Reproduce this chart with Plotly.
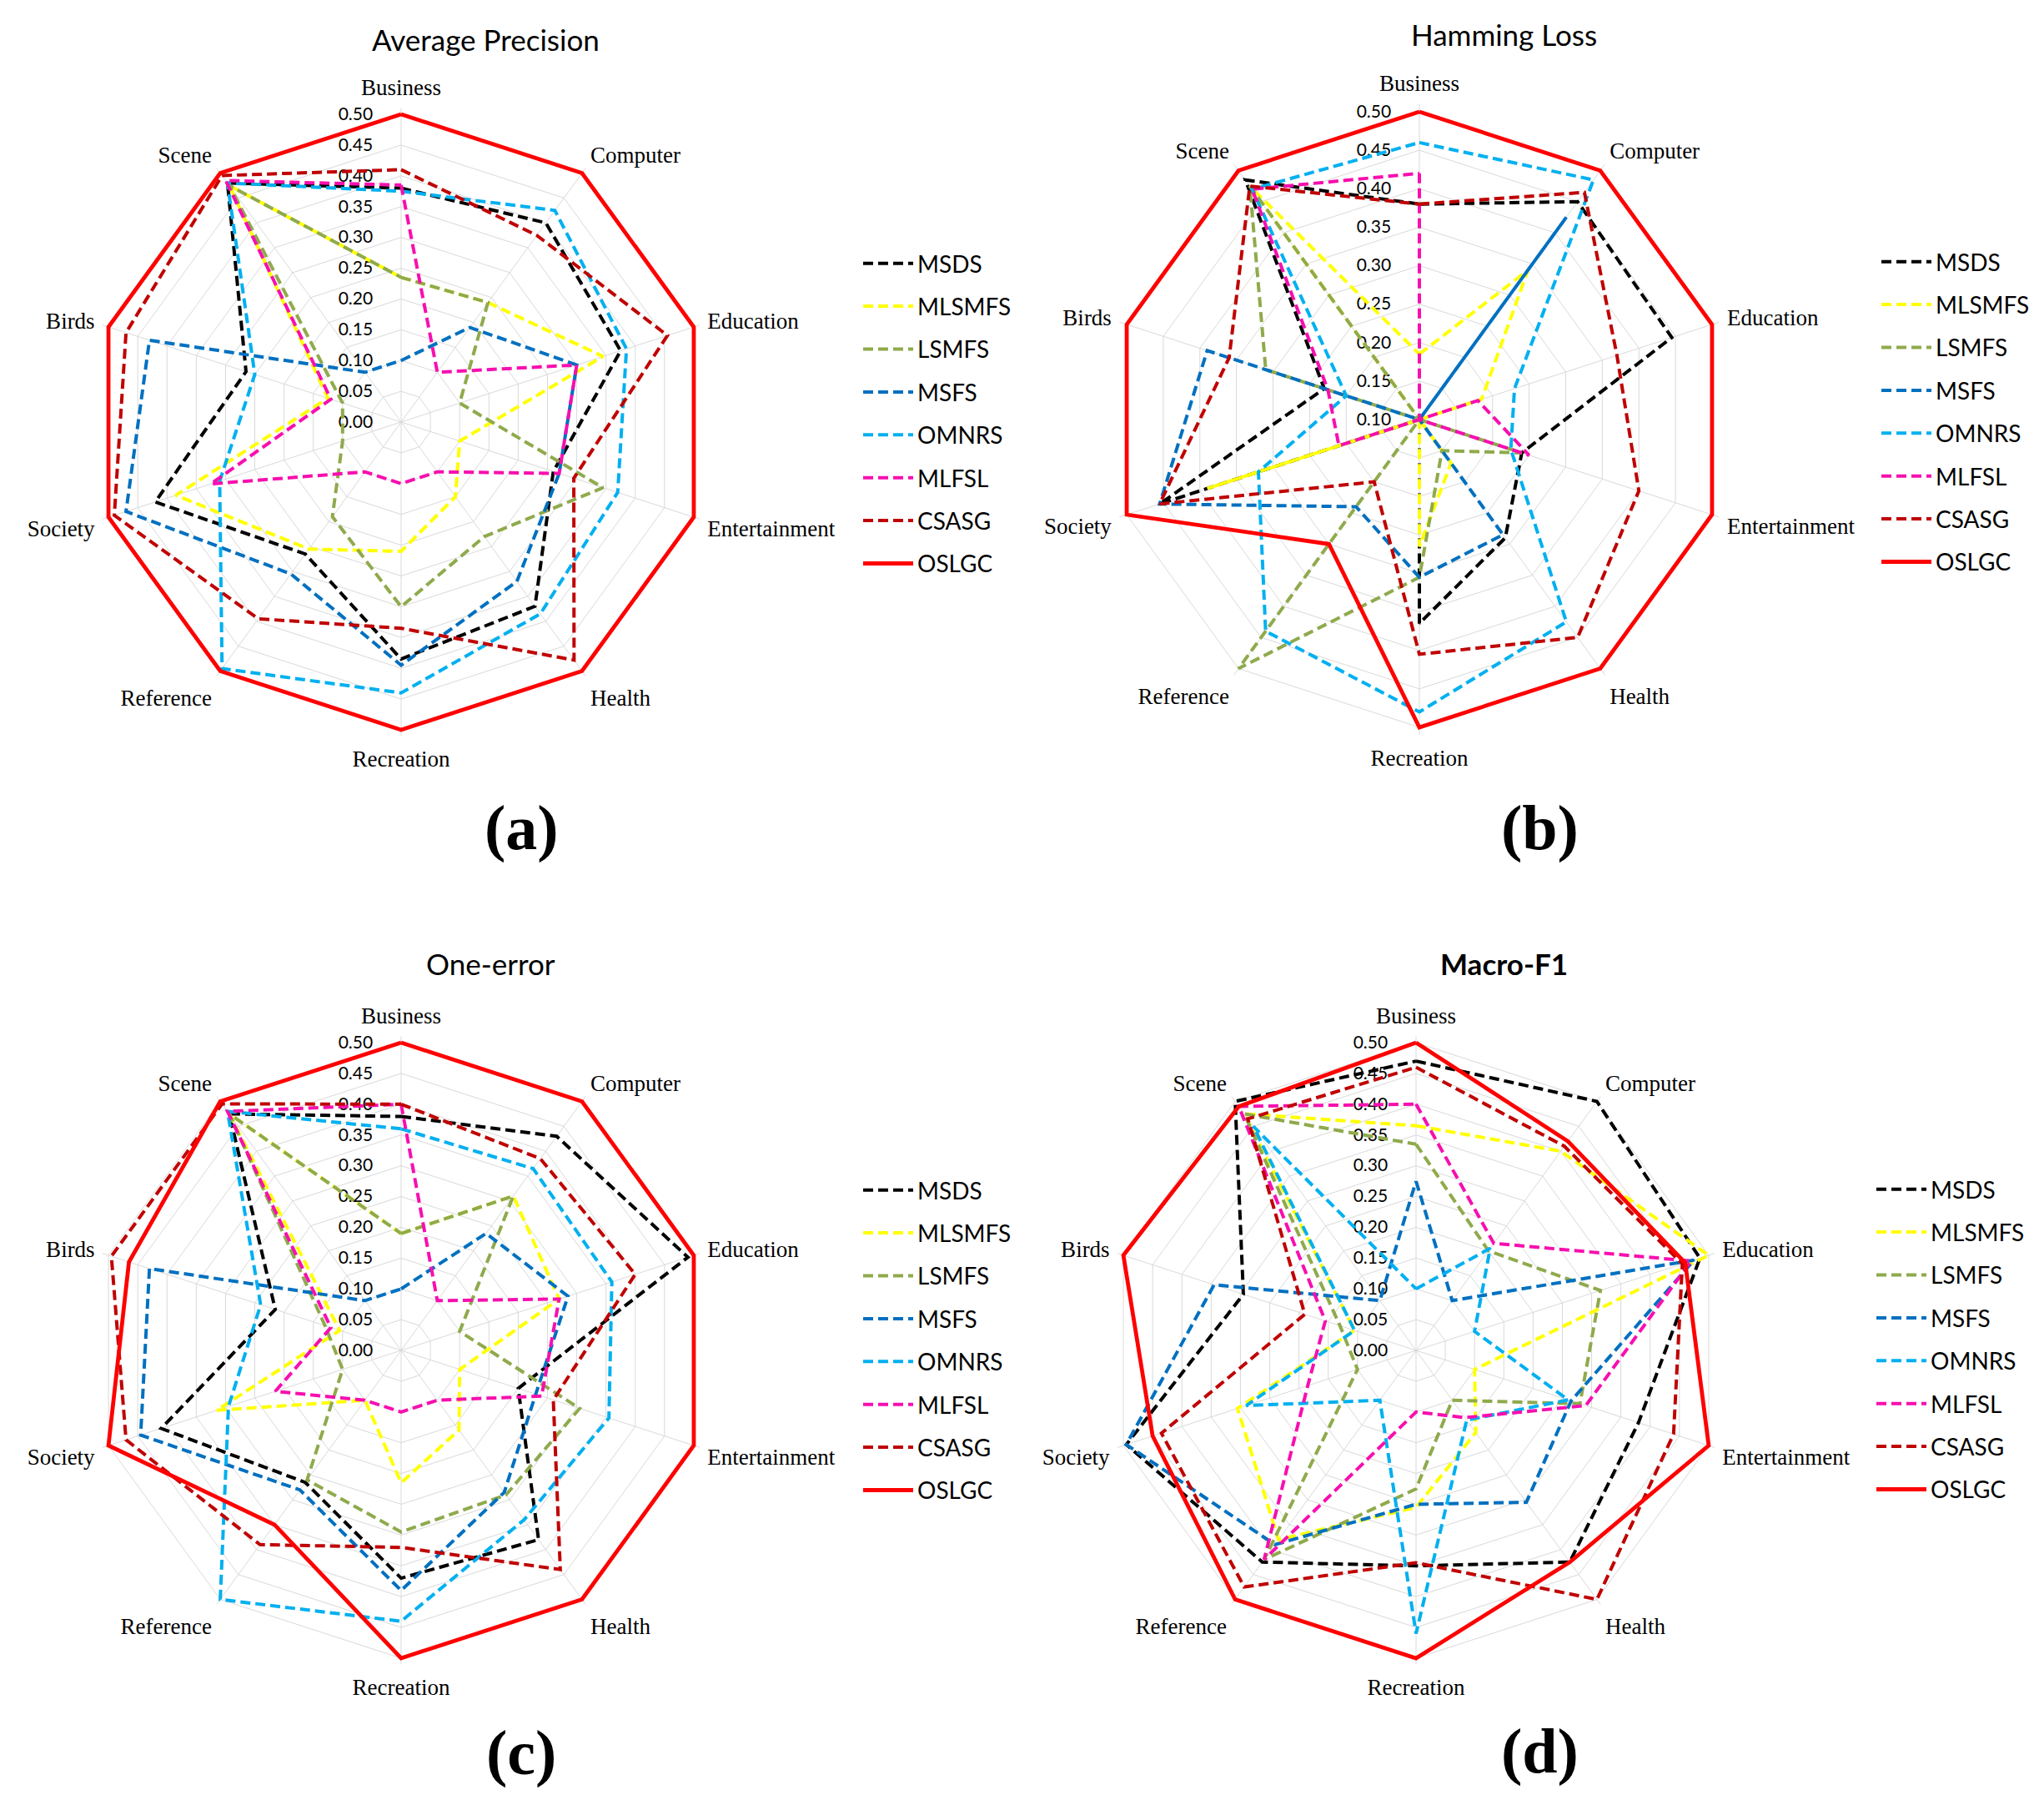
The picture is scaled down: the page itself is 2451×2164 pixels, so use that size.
import plotly.graph_objects as go

CATEGORIES = ["Business", "Computer", "Education", "Entertainment", "Health",
              "Recreation", "Reference", "Society", "Birds", "Scene"]
SERIES = ["MSDS", "MLSMFS", "LSMFS", "MSFS", "OMNRS", "MLFSL", "CSASG", "OSLGC"]

# (a) Average Precision
AP_MSDS = [0.38, 0.40, 0.375, 0.26, 0.37, 0.385, 0.265, 0.42, 0.265, 0.48]
AP_MLSMFS = [0.235, 0.24, 0.345, 0.10, 0.15, 0.21, 0.255, 0.385, 0.125, 0.475]
AP_LSMFS = [0.235, 0.24, 0.10, 0.345, 0.23, 0.30, 0.19, 0.10, 0.10, 0.475]
AP_MSFS = [0.10, 0.19, 0.30, 0.27, 0.32, 0.395, 0.305, 0.47, 0.43, 0.10]
AP_OMNRS = [0.375, 0.425, 0.385, 0.37, 0.385, 0.44, 0.495, 0.31, 0.25, 0.48]
AP_MLFSL = [0.385, 0.10, 0.30, 0.27, 0.10, 0.10, 0.10, 0.325, 0.12, 0.485]
AP_CSASG = [0.41, 0.375, 0.455, 0.295, 0.478, 0.335, 0.395, 0.49, 0.47, 0.495]
AP_OSLGC = [0.50, 0.50, 0.50, 0.50, 0.50, 0.50, 0.50, 0.50, 0.50, 0.50]

# (b) Hamming Loss
HL_MSDS = [0.38, 0.45, 0.445, 0.24, 0.29, 0.365, 0.10, 0.455, 0.23, 0.485]
HL_MLSMFS = [0.185, 0.34, 0.185, 0.10, 0.17, 0.265, 0.10, 0.39, 0.10, 0.475]
HL_LSMFS = [0.10, 0.10, 0.10, 0.24, 0.15, 0.305, 0.50, 0.10, 0.31, 0.475]
HL_MSFS = [0.10, 0.425, 0.10, 0.10, 0.285, 0.305, 0.24, 0.455, 0.39, 0.10]
HL_OMNRS = [0.46, 0.485, 0.23, 0.225, 0.425, 0.48, 0.44, 0.32, 0.20, 0.47]
HL_MLFSL = [0.42, 0.10, 0.18, 0.25, 0.10, 0.10, 0.10, 0.21, 0.225, 0.47]
HL_CSASG = [0.38, 0.465, 0.37, 0.40, 0.45, 0.405, 0.20, 0.455, 0.36, 0.475]
HL_OSLGC = [0.50, 0.50, 0.50, 0.50, 0.50, 0.50, 0.30, 0.50, 0.50, 0.50]

# (c) One-error
OE_MSDS = [0.38, 0.43, 0.49, 0.20, 0.38, 0.37, 0.265, 0.41, 0.215, 0.475]
OE_MLSMFS = [0.19, 0.31, 0.27, 0.10, 0.16, 0.215, 0.10, 0.315, 0.105, 0.475]
OE_LSMFS = [0.19, 0.31, 0.10, 0.305, 0.29, 0.295, 0.26, 0.10, 0.13, 0.475]
OE_MSFS = [0.10, 0.235, 0.285, 0.23, 0.285, 0.39, 0.28, 0.445, 0.43, 0.10]
OE_OMNRS = [0.36, 0.365, 0.36, 0.355, 0.34, 0.44, 0.50, 0.295, 0.24, 0.48]
OE_MLFSL = [0.40, 0.10, 0.27, 0.24, 0.10, 0.10, 0.10, 0.215, 0.12, 0.48]
OE_CSASG = [0.40, 0.385, 0.40, 0.26, 0.44, 0.32, 0.39, 0.47, 0.495, 0.495]
OE_OSLGC = [0.50, 0.50, 0.50, 0.50, 0.50, 0.50, 0.35, 0.50, 0.465, 0.50]

# (d) Macro-F1
MF_MSDS = [0.47, 0.50, 0.485, 0.38, 0.425, 0.35, 0.425, 0.495, 0.295, 0.50]
MF_MLSMFS = [0.365, 0.40, 0.50, 0.10, 0.165, 0.255, 0.38, 0.305, 0.105, 0.475]
MF_LSMFS = [0.335, 0.20, 0.315, 0.28, 0.10, 0.225, 0.42, 0.10, 0.13, 0.475]
MF_MSFS = [0.275, 0.10, 0.475, 0.265, 0.305, 0.25, 0.39, 0.495, 0.345, 0.10]
MF_OMNRS = [0.10, 0.205, 0.10, 0.26, 0.14, 0.46, 0.10, 0.29, 0.105, 0.45]
MF_MLFSL = [0.40, 0.215, 0.47, 0.29, 0.135, 0.10, 0.42, 0.185, 0.155, 0.49]
MF_CSASG = [0.46, 0.41, 0.455, 0.44, 0.50, 0.345, 0.475, 0.435, 0.19, 0.465]
MF_OSLGC = [0.50, 0.42, 0.46, 0.50, 0.425, 0.50, 0.50, 0.45, 0.50, 0.49]

TICKS_FULL = [0.00, 0.05, 0.10, 0.15, 0.20, 0.25, 0.30, 0.35, 0.40, 0.45, 0.50]
TICKS_HL = [0.10, 0.15, 0.20, 0.25, 0.30, 0.35, 0.40, 0.45, 0.50]

COLORS = {
    "MSDS": "#000000", "MLSMFS": "#FFFF00", "LSMFS": "#8FAA4C", "MSFS": "#0070C0",
    "OMNRS": "#00B0F0", "MLFSL": "#F70FAF", "CSASG": "#C00000", "OSLGC": "#FF0000",
}

W, H = 2451, 2164
R = 369          # pixel radius of the 0.50 ring
TOP = 0.51       # radial range end (a bit past 0.50 so the outer lines are not clipped)

panels = [
    dict(title="Average Precision", bold=False, label="(a)", cx=473, cy=498,
         data=[AP_MSDS, AP_MLSMFS, AP_LSMFS, AP_MSFS, AP_OMNRS, AP_MLFSL, AP_CSASG, AP_OSLGC],
         lo=0.0, ticks=TICKS_FULL, tx=574, ty=39, lx=1022, ly=283, labx=617, laby=985),
    dict(title="Hamming Loss", bold=False, label="(b)", cx=1694, cy=495,
         data=[HL_MSDS, HL_MLSMFS, HL_LSMFS, HL_MSFS, HL_OMNRS, HL_MLFSL, HL_CSASG, HL_OSLGC],
         lo=0.1, ticks=TICKS_HL, tx=1795, ty=33, lx=2243, ly=281, labx=1838, laby=985),
    dict(title="One-error", bold=False, label="(c)", cx=473, cy=1611,
         data=[OE_MSDS, OE_MLSMFS, OE_LSMFS, OE_MSFS, OE_OMNRS, OE_MLFSL, OE_CSASG, OE_OSLGC],
         lo=0.0, ticks=TICKS_FULL, tx=580, ty=1147, lx=1022, ly=1394, labx=617, laby=2093),
    dict(title="Macro-F1", bold=True, label="(d)", cx=1690, cy=1611,
         data=[MF_MSDS, MF_MLSMFS, MF_LSMFS, MF_MSFS, MF_OMNRS, MF_MLFSL, MF_CSASG, MF_OSLGC],
         lo=0.0, ticks=TICKS_FULL, tx=1795, ty=1147, lx=2237, ly=1393, labx=1838, laby=2091),
]

fig = go.Figure()
layout = dict(width=W, height=H, margin=dict(l=0, r=0, t=0, b=0),
              paper_bgcolor="white", plot_bgcolor="white", showlegend=True)
annotations = []

for i, p in enumerate(panels):
    sub = "polar" if i == 0 else f"polar{i + 1}"
    leg = "legend" if i == 0 else f"legend{i + 1}"
    for s, vals in zip(SERIES, p["data"]):
        solid = s == "OSLGC"
        fig.add_trace(go.Scatterpolar(
            r=list(vals) + [vals[0]], theta=CATEGORIES + [CATEGORIES[0]],
            mode="lines", name=s, subplot=sub, legend=leg,
            legendgroup=f"{sub}_{s}", cliponaxis=False,
            line=dict(color=COLORS[s], width=4.8 if solid else 4.0,
                      dash="solid" if solid else "12px,6px"),
            hoverinfo="skip",
        ))
    rd = R * (TOP - p["lo"]) / (0.5 - p["lo"])
    x0, x1 = (p["cx"] - rd) / W, (p["cx"] + rd) / W
    y0, y1 = 1 - (p["cy"] + rd) / H, 1 - (p["cy"] - rd) / H
    layout[sub] = dict(
        domain=dict(x=[x0, x1], y=[y0, y1]),
        gridshape="linear", bgcolor="white",
        angularaxis=dict(rotation=90, direction="clockwise", showline=False,
                         gridcolor="#D9D9D9", gridwidth=1,
                         ticks="outside", ticklen=4, tickcolor="rgba(0,0,0,0)",
                         layer="below traces",
                         tickfont=dict(family="Liberation Serif", size=27, color="black")),
        radialaxis=dict(range=[p["lo"], TOP], tickvals=p["ticks"],
                        ticktext=[f"{t:.2f}" for t in p["ticks"]],
                        angle=90, tickangle=90, side="counterclockwise",
                        showline=False, ticks="outside", ticklen=26,
                        tickcolor="rgba(0,0,0,0)",
                        gridcolor="#D9D9D9", gridwidth=1, layer="below traces",
                        tickfont=dict(family="Lato", size=21, color="black")),
    )
    layout[leg] = dict(x=p["lx"] / W, y=1 - p["ly"] / H, xanchor="left", yanchor="top",
                       font=dict(family="Lato", size=28, color="black"),
                       bgcolor="rgba(0,0,0,0)", tracegroupgap=12, itemwidth=60,
                       traceorder="grouped")
    title_text = f"<b>{p['title']}</b>" if p["bold"] else p["title"]
    annotations.append(dict(text=title_text, x=p["tx"] / W, y=1 - p["ty"] / H,
                            xref="paper", yref="paper", showarrow=False,
                            xanchor="center", yanchor="middle",
                            font=dict(family="Lato", size=35, color="black")))
    annotations.append(dict(text=f"<b>{p['label']}</b>", x=p["labx"] / W, y=1 - p["laby"] / H,
                            xref="paper", yref="paper", showarrow=False,
                            xanchor="center", yanchor="middle",
                            font=dict(family="Liberation Serif", size=76, color="black")))

layout["annotations"] = annotations
fig.update_layout(**layout)
fig.write_html("out.html")
